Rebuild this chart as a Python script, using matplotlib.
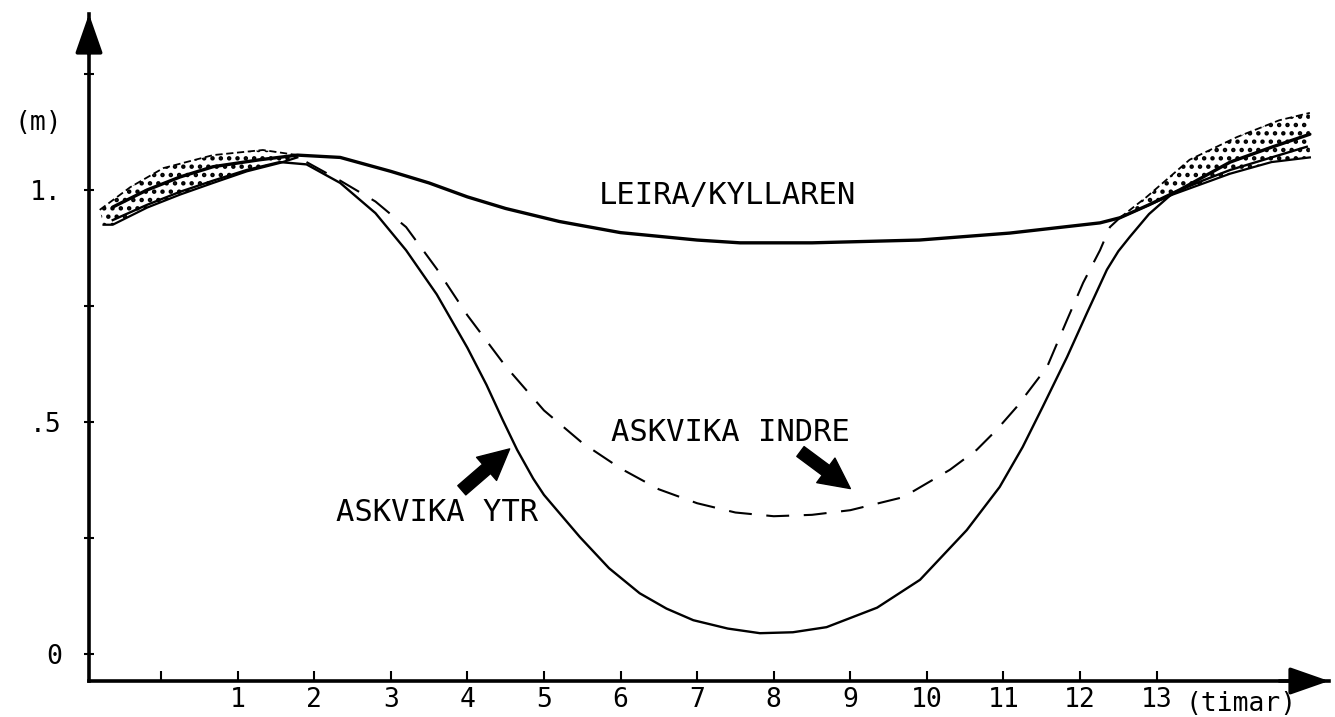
import numpy as np
import matplotlib
matplotlib.use("Agg")
import matplotlib.pyplot as plt

# tidevann-kurver (timar, meter)
hours_leira = [-0.63, -0.18, 0.25, 0.68, 1.29, 1.78, 2.34, 3.0, 3.5, 4.0, 4.5, 5.2, 6.0, 7.0,
               7.56, 8.5, 9.9, 11.08, 12.26, 12.52, 12.9, 13.3, 13.96, 14.5, 15.0]
leira = [0.963, 1.0, 1.028, 1.05, 1.065, 1.075, 1.07, 1.04, 1.015, 0.985, 0.96, 0.932, 0.908, 0.892,
         0.886, 0.886, 0.892, 0.907, 0.929, 0.94, 0.968, 1.0, 1.06, 1.092, 1.12]

hours_ytr = [-0.63, -0.18, 0.25, 0.68, 1.12, 1.55, 1.9, 2.34, 2.8, 3.2, 3.6, 4.0, 4.25, 4.46, 4.65,
             4.86, 5.0, 5.17, 5.47, 5.85, 6.25, 6.6, 6.95, 7.4, 7.82, 8.25, 8.69, 9.35, 9.91, 10.52,
             10.95, 11.25, 11.51, 11.83, 12.09, 12.35, 12.5, 12.65, 12.9, 13.21, 13.6, 13.96, 14.5,
             14.96]
ytr = [0.935, 0.968, 0.996, 1.02, 1.043, 1.06, 1.055, 1.015, 0.95, 0.87, 0.775, 0.66, 0.58, 0.505, 0.44,
       0.378, 0.343, 0.31, 0.252, 0.185, 0.131, 0.098, 0.073, 0.055, 0.045, 0.047, 0.058, 0.10, 0.16,
       0.267, 0.36, 0.446, 0.532, 0.64, 0.735, 0.828, 0.868, 0.899, 0.948, 0.993, 1.02, 1.043, 1.07,
       1.093]

hours_indre = [1.9, 2.34, 2.8, 3.2, 3.6, 4.0, 4.5, 5.0, 5.5, 6.0, 6.5, 7.0, 7.5, 8.0, 8.5, 9.0, 9.69,
               10.3, 10.65, 10.91, 11.17, 11.57, 11.83, 12.04, 12.26, 12.39, 12.52]
indre = [1.06, 1.02, 0.975, 0.92, 0.83, 0.73, 0.62, 0.525, 0.455, 0.40, 0.355, 0.325, 0.305, 0.297, 0.30,
         0.31, 0.338, 0.397, 0.44, 0.483, 0.532, 0.619, 0.72, 0.8, 0.87, 0.92, 0.94]

# skraverte felt
band_l_up_h = [-0.8, -0.4, 0.03, 0.68, 1.33, 1.78]
band_l_up = [0.957, 1.006, 1.047, 1.075, 1.086, 1.075]
band_l_lo_h = [-0.75, -0.63, -0.18, 0.25, 0.68, 1.12, 1.55, 1.78]
band_l_lo = [0.925, 0.925, 0.962, 0.99, 1.015, 1.04, 1.058, 1.07]

band_r_up_h = [12.52, 12.87, 13.43, 14.05, 14.6, 15.0]
band_r_up = [0.94, 0.985, 1.065, 1.114, 1.15, 1.166]
band_r_lo_h = [12.52, 13.21, 13.96, 14.5, 15.0]
band_r_lo = [0.94, 0.99, 1.035, 1.06, 1.07]

xticks = list(range(0, 14))
xticklabels = [''] + [str(i) for i in range(1, 14)]
yticks = [0, 0.25, 0.5, 0.75, 1.0, 1.25]
yticklabels = ['0', '', '.5', '', '1.', '']

plt.rcParams['font.family'] = ['DejaVu Sans Mono', 'DejaVu Sans']
plt.rcParams['hatch.linewidth'] = 2.0

fig = plt.figure(figsize=(13.35, 7.17), dpi=100)
ax = fig.add_axes([89 / 1335, 36 / 717, 1240 / 1335, 667 / 717])
ax.set_xlim(-0.94, 15.25)
ax.set_ylim(-0.058, 1.379)

# dotted bands
for uh, u, lh, lo in [(band_l_up_h, band_l_up, band_l_lo_h, band_l_lo),
                      (band_r_up_h, band_r_up, band_r_lo_h, band_r_lo)]:
    ax.fill(np.concatenate([uh, lh[::-1]]), np.concatenate([u, lo[::-1]]),
            facecolor='none', edgecolor='k', hatch='..', lw=0)
    ax.plot(uh, u, color='k', lw=1.3, ls=(0, (4, 2)))
    ax.plot(lh, lo, color='k', lw=1.6)

ax.plot(hours_leira, leira, color='k', lw=2.4, solid_capstyle='round')
ax.plot(hours_ytr, ytr, color='k', lw=1.7)
ax.plot(hours_indre, indre, color='k', lw=1.5, ls=(0, (11, 7)))

fs = 22
ax.text(7.39, 0.989, 'LEIRA/KYLLAREN', fontsize=fs, ha='center', va='center')
ax.text(7.44, 0.478, 'ASKVIKA INDRE', fontsize=fs, ha='center', va='center')
ax.text(3.6, 0.304, 'ASKVIKA YTR', fontsize=fs, ha='center', va='center')

arrow = dict(arrowstyle='simple,head_length=1.0,head_width=1.0,tail_width=0.4',
             fc='k', ec='k', mutation_scale=22)
ax.annotate('', xy=(4.58, 0.446), xytext=(3.9, 0.349), arrowprops=arrow)
ax.annotate('', xy=(9.03, 0.353), xytext=(8.32, 0.44), arrowprops=arrow)

# axes
for s in ['top', 'right']:
    ax.spines[s].set_visible(False)
for s in ['left', 'bottom']:
    ax.spines[s].set_linewidth(2.6)
head = dict(arrowstyle='-|>,head_length=1.2,head_width=0.42', mutation_scale=20,
            lw=2.6, color='k', shrinkA=0, shrinkB=0)
ax.annotate('', xy=(1.0, 0), xytext=(0.96, 0), xycoords='axes fraction', arrowprops=head)
ax.annotate('', xy=(0, 1.0), xytext=(0, 0.94), xycoords='axes fraction', arrowprops=head)

ax.set_xticks(xticks)
ax.set_xticklabels(xticklabels)
ax.set_yticks(yticks)
ax.set_yticklabels(yticklabels)
ax.tick_params(axis='x', direction='in', length=7, width=1.5, pad=4, labelsize=19)
ax.tick_params(axis='y', direction='inout', length=7, width=1.5, pad=16, labelsize=19)

ax.text(-0.041, 1.144, '(m)', fontsize=19, ha='center', va='center',
        transform=ax.get_yaxis_transform())
ax.text(14.1, -0.035, '(timar)', fontsize=19, ha='center', va='center',
        transform=ax.get_xaxis_transform())

fig.savefig('out.png', dpi=100)
